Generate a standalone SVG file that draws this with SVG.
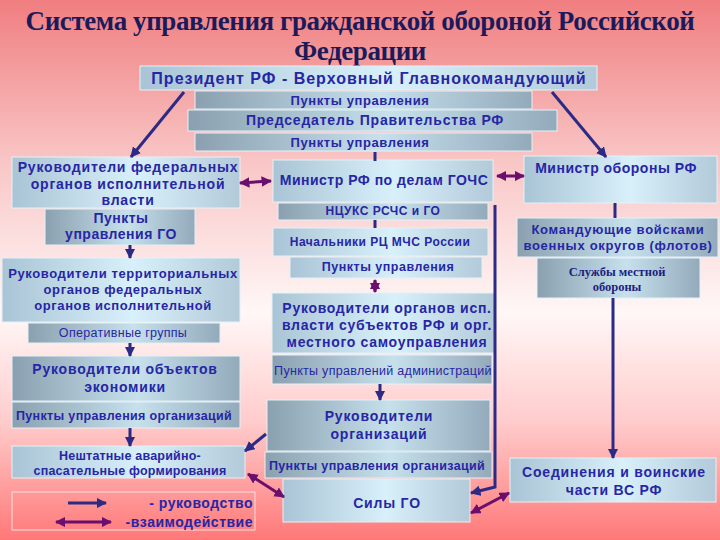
<svg xmlns="http://www.w3.org/2000/svg" width="720" height="540" viewBox="0 0 720 540">
<defs>
<linearGradient id="bg" x1="0" y1="0" x2="0" y2="1">
<stop offset="0" stop-color="#f07e80"/>
<stop offset="0.3" stop-color="#f9c6c6"/>
<stop offset="0.58" stop-color="#fff7f7"/>
<stop offset="0.78" stop-color="#ffcccc"/>
<stop offset="1" stop-color="#ff7878"/>
</linearGradient>
<linearGradient id="gL" x1="0" y1="0" x2="1" y2="0">
<stop offset="0" stop-color="#a9c4d5"/>
<stop offset="0.55" stop-color="#d8f0fa"/>
<stop offset="1" stop-color="#b2cad9"/>
</linearGradient>
<linearGradient id="gD" x1="0" y1="0" x2="1" y2="0">
<stop offset="0" stop-color="#8aa0b0"/>
<stop offset="0.55" stop-color="#c6e0ec"/>
<stop offset="1" stop-color="#93aabb"/>
</linearGradient>
<marker id="ah" viewBox="0 0 10 10" refX="9" refY="5" markerWidth="3.5" markerHeight="3.5" orient="auto-start-reverse" markerUnits="strokeWidth">
<path d="M0,0 L10,5 L0,10 z" fill="#2b2b85"/>
</marker>
<marker id="ap" viewBox="0 0 10 10" refX="9" refY="5" markerWidth="3.5" markerHeight="3.5" orient="auto-start-reverse" markerUnits="strokeWidth">
<path d="M0,0 L10,5 L0,10 z" fill="#6b0f6e"/>
</marker>
<style>
.bl{fill:url(#gL);stroke:#e4f1f7;stroke-width:1}
.bd{fill:url(#gD);stroke:#e4f1f7;stroke-width:1}
.t{font-family:"Liberation Sans",Arial,sans-serif;font-weight:bold;fill:#2626a6;text-anchor:middle;letter-spacing:0.5px}
.n{font-family:"Liberation Sans",Arial,sans-serif;fill:#2626a6;text-anchor:middle;letter-spacing:0.3px}
.s{font-family:"Liberation Serif","Times New Roman",serif;font-weight:bold;fill:#1e1e80;text-anchor:middle}
.title{font-family:"Liberation Serif","Times New Roman",serif;font-weight:bold;fill:#1b1b5c;text-anchor:middle;font-size:27px;letter-spacing:-0.4px}
.lead{stroke:#2b2b85;stroke-width:3;fill:none}
.lead2{stroke:#2b2b85;stroke-width:3;fill:none;marker-end:url(#ah)}
.inter{stroke:#6b0f6e;stroke-width:3;fill:none;marker-start:url(#ap);marker-end:url(#ap)}
</style>
</defs>
<rect x="0" y="0" width="720" height="540" fill="url(#bg)"/>
<g id="title">
<text class="title" x="360" y="30">Система управления гражданской обороной Российской</text>
<text class="title" x="360" y="60">Федерации</text>
</g>

<g id="president"><rect class="bl" x="140" y="66" width="457" height="24"/><text class="t" x="369" y="84" font-size="16" style="letter-spacing:1px">Президент РФ - Верховный Главнокомандующий</text></g>
<g id="pu1"><rect class="bd" x="195" y="91" width="337" height="18"/><text class="t" x="360" y="105" font-size="13" style="letter-spacing:0.6px">Пункты управления</text></g>
<g id="chairman"><rect class="bd" x="188" y="110" width="369" height="21"/><text class="t" x="375" y="125" font-size="14" style="letter-spacing:0.8px">Председатель Правительства РФ</text></g>
<g id="pu2"><rect class="bd" x="195" y="133" width="337" height="18"/><text class="t" x="360" y="147" font-size="13" style="letter-spacing:0.6px">Пункты управления</text></g>

<g id="fed"><rect class="bl" x="12" y="157" width="228" height="51"/>
<text class="t" x="128" y="172" font-size="14" style="letter-spacing:0.8px">Руководители федеральных</text>
<text class="t" x="128" y="189" font-size="14" style="letter-spacing:0.8px">органов исполнительной</text>
<text class="t" x="128" y="205" font-size="14" style="letter-spacing:0.8px">власти</text></g>
<g id="pugo"><rect class="bd" x="45" y="209" width="150" height="36"/>
<text class="t" x="121" y="223" font-size="14">Пункты</text>
<text class="t" x="121" y="239" font-size="14">управления ГО</text></g>
<g id="terr"><rect class="bl" x="2" y="258" width="238" height="64"/>
<text class="t" x="123" y="278" font-size="13" style="letter-spacing:0.6px">Руководители территориальных</text>
<text class="t" x="123" y="294" font-size="13" style="letter-spacing:0.6px">органов федеральных</text>
<text class="t" x="123" y="310" font-size="13" style="letter-spacing:0.6px">органов исполнительной</text></g>
<g id="opgr"><rect class="bd" x="28" y="323" width="192" height="20"/><text class="n" x="123" y="337" font-size="12.5">Оперативные группы</text></g>
<g id="econ"><rect class="bd" x="12" y="356" width="228" height="45"/>
<text class="t" x="125" y="374" font-size="14" style="letter-spacing:0.8px">Руководители объектов</text>
<text class="t" x="125" y="392" font-size="14" style="letter-spacing:0.8px">экономики</text></g>
<g id="puorg1"><rect class="bd" x="12" y="402" width="228" height="26"/><text class="t" x="124" y="420" font-size="12.5" style="letter-spacing:0.35px">Пункты управления организаций</text></g>
<g id="nasf"><rect class="bl" x="12" y="446" width="233" height="32"/>
<text class="t" x="130" y="460" font-size="12.5" style="letter-spacing:0.2px">Нештатные аварийно-</text>
<text class="t" x="130" y="475" font-size="12.5" style="letter-spacing:0.2px">спасательные формирования</text></g>

<g id="mchs"><rect class="bl" x="273" y="160" width="220" height="42"/><text class="t" x="384" y="185" font-size="14">Министр РФ по делам ГОЧС</text></g>
<g id="ncuks"><rect class="bd" x="278" y="203" width="210" height="17"/><text class="t" x="383" y="215" font-size="12">НЦУКС РСЧС и ГО</text></g>
<g id="rc"><rect class="bl" x="273" y="228" width="215" height="28"/><text class="t" x="380" y="246" font-size="12">Начальники РЦ МЧС России</text></g>
<g id="pu3"><rect class="bl" x="290" y="257" width="192" height="21"/><text class="t" x="388" y="271" font-size="12.5">Пункты управления</text></g>
<g id="subj"><rect class="bl" x="272" y="293" width="223" height="60"/>
<text class="t" x="387" y="313" font-size="14" style="letter-spacing:0.7px">Руководители органов исп.</text>
<text class="t" x="387" y="330" font-size="14" style="letter-spacing:0.7px">власти субъектов РФ и орг.</text>
<text class="t" x="387" y="347" font-size="14" style="letter-spacing:0.7px">местного самоуправления</text></g>
<g id="puadm"><rect class="bd" x="272" y="355" width="220" height="29"/><text class="n" x="383" y="375" font-size="12.5">Пункты управлений администраций</text></g>
<g id="orgs"><rect class="bd" x="267" y="400" width="223" height="51"/>
<text class="t" x="379" y="421" font-size="14" style="letter-spacing:0.8px">Руководители</text>
<text class="t" x="379" y="439" font-size="14" style="letter-spacing:0.8px">организаций</text></g>
<g id="puorg2"><rect class="bd" x="265" y="452" width="227" height="26"/><text class="t" x="377" y="470" font-size="12.5" style="letter-spacing:0.35px">Пункты управления организаций</text></g>
<g id="silygo"><rect class="bl" x="283" y="479" width="187" height="43"/><text class="t" x="387" y="508" font-size="14" style="letter-spacing:0.8px">Силы ГО</text></g>

<g id="minob"><rect class="bl" x="524" y="156" width="193" height="47"/><text class="t" x="616" y="173" font-size="14">Министр обороны РФ</text></g>
<g id="komand"><rect class="bd" x="517" y="218" width="201" height="39"/>
<text class="t" x="618" y="234" font-size="13" style="letter-spacing:0.7px">Командующие войсками</text>
<text class="t" x="618" y="250" font-size="13" style="letter-spacing:0.7px">военных округов (флотов)</text></g>
<g id="sluzh"><rect class="bd" x="537" y="258" width="163" height="40"/>
<text class="s" x="617" y="276" font-size="12.5">Службы местной</text>
<text class="s" x="617" y="291" font-size="12.5">обороны</text></g>
<g id="vs"><rect class="bl" x="510" y="458" width="206" height="44"/>
<text class="t" x="614" y="477" font-size="14" style="letter-spacing:0.8px">Соединения и воинские</text>
<text class="t" x="614" y="495" font-size="14" style="letter-spacing:0.8px">части ВС РФ</text></g>

<g id="connectors">
<line class="lead2" x1="184" y1="92" x2="131" y2="157"/>
<line class="lead2" x1="552" y1="92" x2="606" y2="157"/>
<line class="lead" x1="375" y1="152" x2="375" y2="161"/>
<line class="lead2" x1="130" y1="245" x2="130" y2="258"/>
<line class="lead2" x1="130" y1="343" x2="130" y2="356"/>
<line class="lead2" x1="130" y1="428" x2="130" y2="446"/>
<line class="lead" x1="375" y1="220" x2="375" y2="228"/>
<line class="lead2" x1="380" y1="384" x2="380" y2="400"/>
<line class="lead" x1="615" y1="203" x2="615" y2="218"/>
<line class="lead2" x1="613" y1="298" x2="613" y2="458"/>
<polyline class="lead2" points="495,205 495,487 471,493"/>
<line class="lead2" x1="266" y1="434" x2="245" y2="451"/>
<line class="inter" x1="240" y1="183" x2="271" y2="181"/>
<line class="inter" x1="497" y1="176" x2="524" y2="176"/>
<line class="inter" x1="375" y1="280" x2="375" y2="292"/>
<line class="inter" x1="248" y1="474" x2="284" y2="497"/>
<line class="inter" x1="471" y1="513" x2="509" y2="493"/>
</g>

<g id="legend">
<rect x="12" y="492" width="243" height="38" fill="none" stroke="#ffe0e0" stroke-width="1"/>
<line class="lead2" x1="68" y1="503" x2="106" y2="503" stroke-width="4"/>
<text class="t" x="253" y="508" font-size="14" style="text-anchor:end">- руководство</text>
<line class="inter" x1="56" y1="522" x2="111" y2="522" stroke-width="4"/>
<text class="t" x="253" y="527" font-size="14" style="text-anchor:end">-взаимодействие</text>
</g>
</svg>
